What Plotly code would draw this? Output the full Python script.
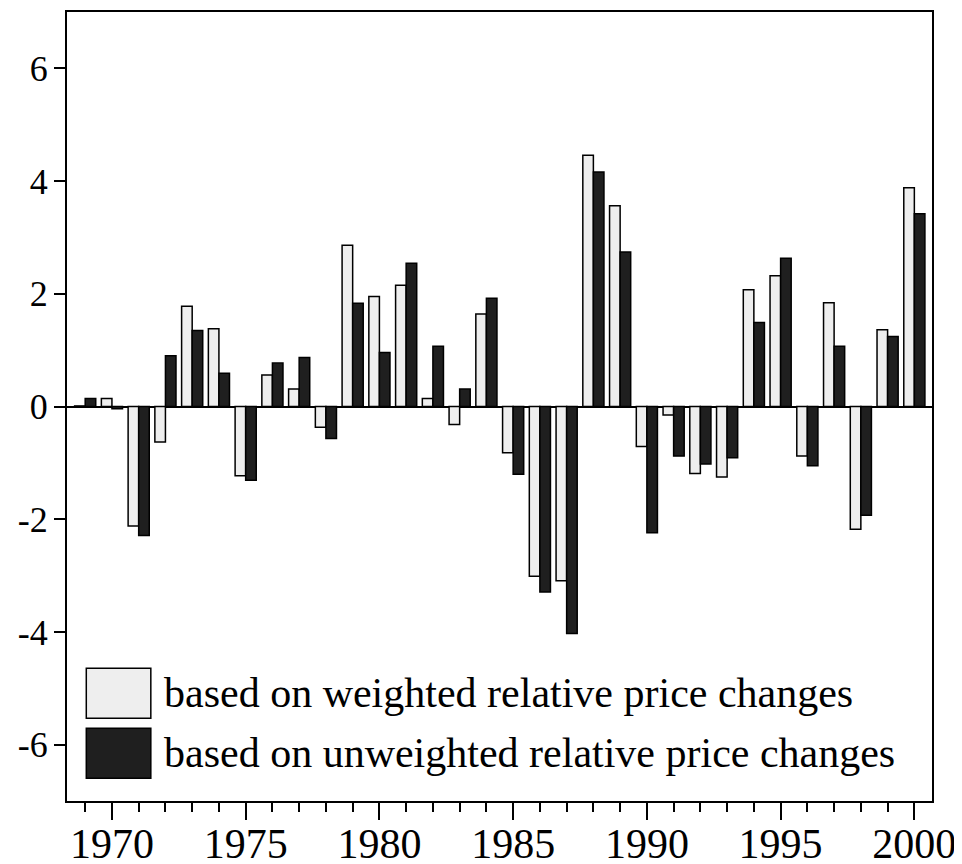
import plotly.graph_objects as go

years = list(range(1969, 2001))
weighted = [0.01, 0.14, -2.12, -0.63, 1.78, 1.38, -1.23, 0.56, 0.31, -0.37,
            2.86, 1.95, 2.15, 0.14, -0.32, 1.64, -0.82, -3.01, -3.09, 4.46,
            3.56, -0.71, -0.15, -1.19, -1.25, 2.07, 2.32, -0.88, 1.84, -2.18,
            1.36, 3.88]
unweighted = [0.14, -0.04, -2.29, 0.90, 1.35, 0.59, -1.31, 0.77, 0.87, -0.57,
              1.83, 0.96, 2.54, 1.07, 0.31, 1.92, -1.20, -3.29, -4.03, 4.16,
              2.74, -2.24, -0.88, -1.02, -0.91, 1.49, 2.63, -1.05, 1.07, -1.93,
              1.24, 3.42]
series_names = ["based on weighted relative price changes",
                "based on unweighted relative price changes"]
x_tickvals = [1970, 1975, 1980, 1985, 1990, 1995, 2000]
x_ticktext = ["1970", "1975", "1980", "1985", "1990", "1995", "2000"]
y_tickvals = [-6, -4, -2, 0, 2, 4, 6]
y_ticktext = ["-6", "-4", "-2", "0", "2", "4", "6"]

LIGHT = "#EEEEEE"
DARK = "#1F1F1F"
FONT = "Liberation Serif, Times New Roman, serif"

fig = go.Figure()
fig.add_trace(go.Bar(x=years, y=weighted, name=series_names[0],
                     marker=dict(color=LIGHT, line=dict(color="black", width=1.5)),
                     showlegend=False))
fig.add_trace(go.Bar(x=years, y=unweighted, name=series_names[1],
                     marker=dict(color=DARK, line=dict(color="black", width=1.5)),
                     showlegend=False))

# custom legend (large swatches)
swatches = [(0.1048, 0.1682, LIGHT), (0.0288, 0.0921, DARK)]
for (y0, y1, col), name in zip(swatches, series_names):
    fig.add_shape(type="rect", xref="paper", yref="paper",
                  x0=0.0223, x1=0.0969, y0=y0, y1=y1,
                  fillcolor=col, line=dict(color="black", width=1.5))
    fig.add_annotation(xref="paper", yref="paper", x=0.110, y=(y0 + y1) / 2,
                       xanchor="left", yanchor="middle", showarrow=False,
                       text=name, font=dict(family=FONT, size=42, color="black"))

# page has an 8px body margin, so margins are offset by 8px
fig.update_layout(
    width=962, height=864,
    margin=dict(l=59, r=38, t=4, b=71),
    paper_bgcolor="white", plot_bgcolor="white",
    barmode="group", bargap=0.21, bargroupgap=0,
    font=dict(family=FONT, color="black"),
)
fig.update_xaxes(
    range=[1968.32, 2000.66], tickvals=x_tickvals, ticktext=x_ticktext,
    ticks="outside", ticklen=17, tickwidth=2, tickcolor="black",
    minor=dict(dtick=1, tick0=1969, ticks="outside", ticklen=9, tickwidth=2, tickcolor="black"),
    showgrid=False, zeroline=False, automargin=False,
    showline=True, linecolor="black", linewidth=2, mirror=True,
    tickfont=dict(family=FONT, size=42, color="black"),
    ticklabelstandoff=-12,
)
fig.update_yaxes(
    range=[-7, 7], tickvals=y_tickvals, ticktext=y_ticktext,
    ticks="outside", ticklen=11, tickwidth=1.5, tickcolor="black",
    showgrid=False, zeroline=True, zerolinecolor="black", zerolinewidth=2,
    showline=True, linecolor="black", linewidth=2, mirror=True, automargin=False,
    tickfont=dict(family=FONT, size=36, color="black"),
    ticklabelstandoff=-1,
)

fig.write_html("out.html")
